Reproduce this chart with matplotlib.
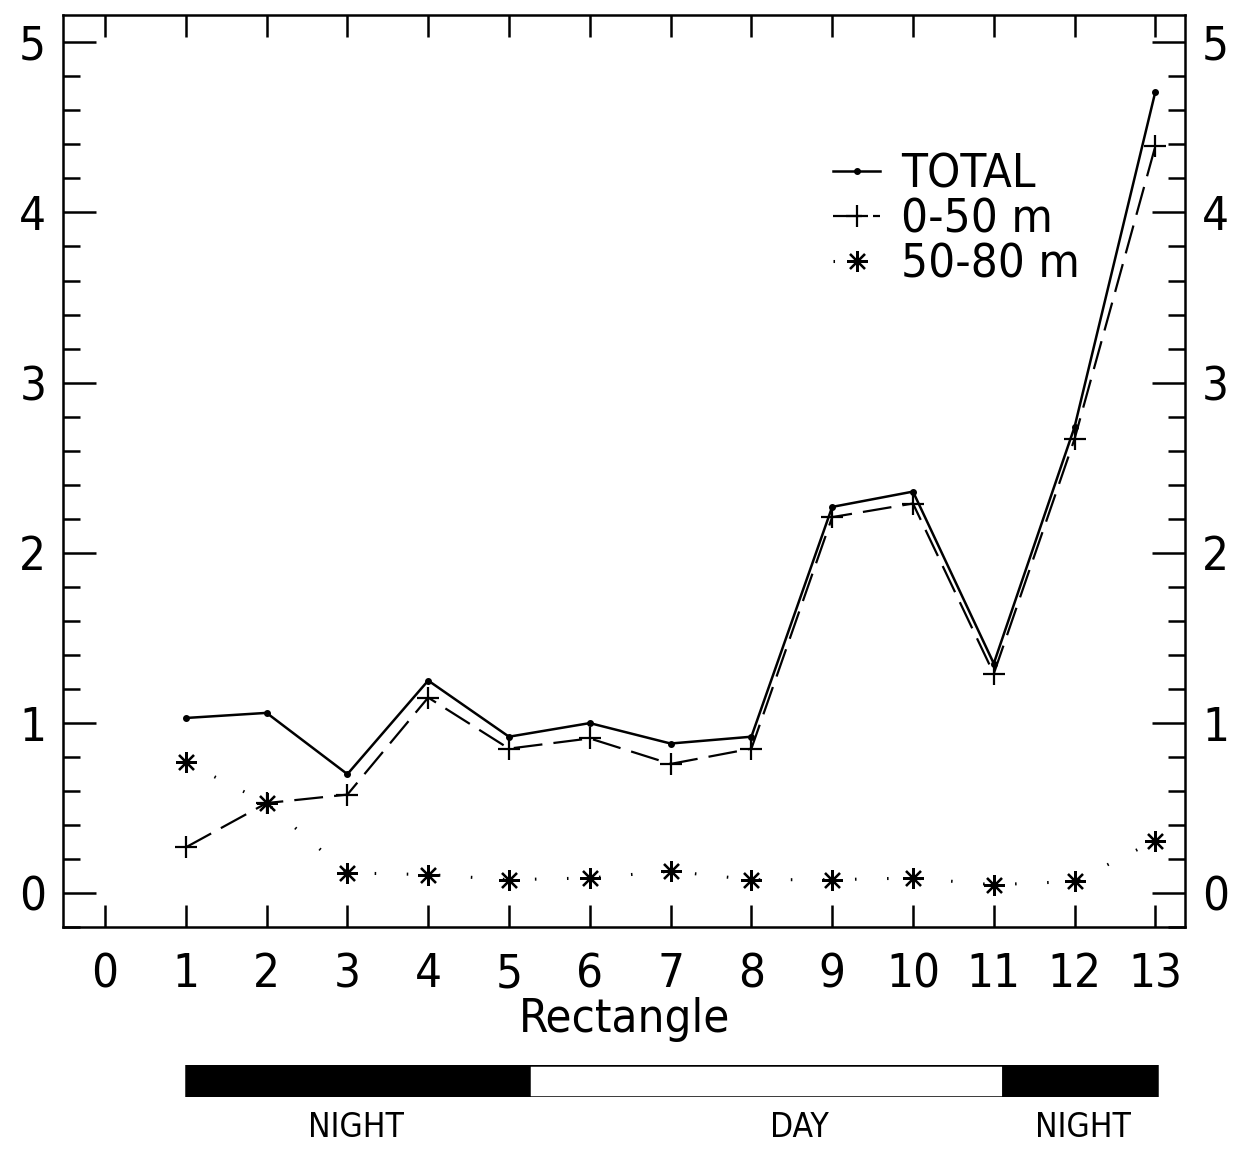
import numpy as np
import matplotlib
matplotlib.use("Agg")
import matplotlib.pyplot as plt
from matplotlib.ticker import MultipleLocator

### rcParams ###
plt.rcParams['font.family'] = ['DejaVu Sans']
plt.rcParams['font.stretch'] = 'condensed'
plt.rcParams['font.size'] = 34
plt.rcParams['axes.linewidth'] = 1.8

### data ###
rect = [1, 2, 3, 4, 5, 6, 7, 8, 9, 10, 11, 12, 13]
total = [1.03, 1.06, 0.70, 1.25, 0.92, 1.00, 0.88, 0.92, 2.27, 2.36, 1.35, 2.74, 4.71]
upper = [0.27, 0.53, 0.58, 1.15, 0.85, 0.91, 0.76, 0.85, 2.21, 2.29, 1.29, 2.67, 4.39]
lower = [0.77, 0.53, 0.12, 0.11, 0.08, 0.09, 0.13, 0.08, 0.08, 0.09, 0.05, 0.07, 0.31]

# light periods along the Rectangle axis
periods = [(1.0, 5.25, 'black'), (5.25, 11.12, 'white'), (11.12, 13.02, 'black')]
period_labels = [(3.1, 'NIGHT'), (8.6, 'DAY'), (12.1, 'NIGHT')]

fig = plt.figure(figsize=(12.47, 11.52), dpi=100)
ax = fig.add_axes([0.0505, 0.195, 0.900, 0.792])

ax.plot(rect, total, '-', color='black', lw=1.8, marker='o', ms=4, label='TOTAL')
ax.plot(rect, upper, color='black', lw=1.6, ls=(0, (13, 5)), marker='+', ms=16, mew=1.6,
        label='0-50 m')
ax.plot(rect, lower, color='black', lw=2.2, ls=(0, (0.5, 10)), marker=(8, 2, 0), ms=15,
        mew=1.6, label='50-80 m')

ax.set_xlim(-0.52, 13.37)
ax.set_ylim(-0.2, 5.16)
ax.xaxis.set_major_locator(MultipleLocator(1))
ax.yaxis.set_major_locator(MultipleLocator(1))
ax.yaxis.set_minor_locator(MultipleLocator(0.2))
ax.tick_params(axis='x', which='major', direction='in', top=True, bottom=True,
               length=16, width=1.8, pad=18)
ax.tick_params(axis='y', which='major', direction='in', left=True, right=True,
               labelright=True, length=24, width=1.8, pad=12)
ax.tick_params(axis='y', which='minor', direction='in', left=True, right=True,
               length=12, width=1.8)
ax.set_xlabel('Rectangle', labelpad=0)

leg = ax.legend(loc='upper left', bbox_to_anchor=(0.665, 0.875), frameon=False,
                handlelength=1.0, handletextpad=0.45, labelspacing=0.0, borderpad=0)

### day / night bar ###
bar = fig.add_axes([0.0505, 0.0477, 0.900, 0.0278])
for start, end, col in periods:
    bar.barh(0, end - start, left=start, height=1, color=col, edgecolor='black', lw=1.8)
bar.set_xlim(ax.get_xlim())
bar.set_ylim(-0.5, 0.5)
bar.axis('off')
for xpos, txt in period_labels:
    bar.text(xpos, -1.45, txt, ha='center', va='center', fontsize=24)

fig.savefig('out.png', dpi=100)
